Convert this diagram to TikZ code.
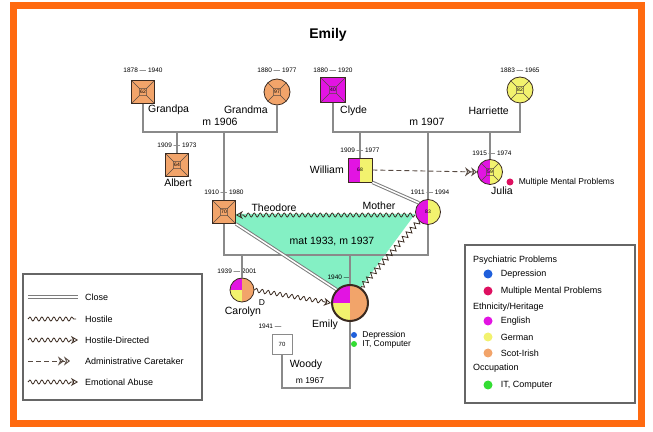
\documentclass[tikz,border=0pt]{standalone}
\usepackage{fontspec}
\setmainfont{Liberation Sans}
\usetikzlibrary{
  arrows.meta,
  backgrounds,
  decorations.pathmorphing,
  positioning
}
\definecolor{genoScot}{HTML}{F2A46A}
\definecolor{genoEnglish}{HTML}{E214E2}
\definecolor{genoGerman}{HTML}{F2F26E}
\definecolor{genoBond}{HTML}{84F0C4}
\definecolor{genoDepression}{HTML}{1F5FDB}
\definecolor{genoMental}{HTML}{DE1060}
\definecolor{genoComputer}{HTML}{33DD33}
\definecolor{genoFrame}{HTML}{FF6A10}
\definecolor{genoLine}{HTML}{8A8A8A}
\definecolor{genoInk}{HTML}{3A2A20}
\tikzset{
  maleBox/.style={
    draw=genoInk,
    thick,
    minimum size=23pt,
    inner sep=0pt,
    font=\fontsize{5}{5}\selectfont
  },
  femaleDisc/.style={
    circle,
    draw=genoInk,
    thick,
    minimum size=26pt,
    inner sep=0pt,
    font=\fontsize{5}{5}\selectfont
  },
  deadCross/.style={path picture={
    \draw[genoInk!85, line width=0.5pt]
      (path picture bounding box.north west) -- ([shift={(-3.5pt,3.5pt)}]path picture bounding box.center)
      (path picture bounding box.north east) -- ([shift={(3.5pt,3.5pt)}]path picture bounding box.center)
      (path picture bounding box.south west) -- ([shift={(-3.5pt,-3.5pt)}]path picture bounding box.center)
      (path picture bounding box.south east) -- ([shift={(3.5pt,-3.5pt)}]path picture bounding box.center)
      ([shift={(-3.5pt,-3.5pt)}]path picture bounding box.center) rectangle
      ([shift={(3.5pt,3.5pt)}]path picture bounding box.center);
  }},
  halfPie/.style 2 args={preaction={fill=white, path picture={
    \fill[#1] (path picture bounding box.south) rectangle (path picture bounding box.north west);
    \fill[#2] (path picture bounding box.south) rectangle (path picture bounding box.north east);
  }}},
  triPie/.style={path picture={
    \fill[genoScot] (path picture bounding box.south) rectangle (path picture bounding box.north east);
    \fill[genoEnglish] (path picture bounding box.center) rectangle (path picture bounding box.north west);
    \fill[genoGerman] (path picture bounding box.center) rectangle (path picture bounding box.south west);
  }},
  dateText/.style={font=\fontsize{6.5}{7}\selectfont, inner sep=0pt},
  nameText/.style={font=\fontsize{10.5}{11}\selectfont, inner sep=0pt},
  noteText/.style={font=\fontsize{8.5}{9}\selectfont, inner sep=0pt},
  keyText/.style={font=\fontsize{9}{10}\selectfont, inner sep=0pt, anchor=west},
  familyLine/.style={genoLine, line width=1.8pt},
  closeLine/.style={draw=genoLine!90!black, line width=1pt, double=white, double distance=1.5pt},
  hostileLine/.style={
    genoInk,
    line width=0.8pt,
    decorate,
    decoration={snake, amplitude=2pt, segment length=6pt}
  },
  hostileArrow/.style={
    genoInk,
    line width=0.8pt,
    decorate,
    decoration={snake, amplitude=2pt, segment length=6pt, post length=7pt},
    -{Stealth[open, length=7pt, width=8pt]}
  },
  caretakerArrow/.style={
    genoInk!85,
    line width=0.9pt,
    dash pattern=on 5pt off 3pt,
    -{Stealth[open, length=6pt, width=9pt]Stealth[open, length=6pt, width=9pt]}
  },
  sawLine/.style={
    genoInk,
    line width=0.8pt,
    decorate,
    decoration={zigzag, amplitude=2.6pt, segment length=6pt}
  },
  legendBox/.style={draw=black!60, line width=1.2pt},
  traitDot/.style={circle, inner sep=0pt, minimum size=9pt}
}

\begin{document}
\begin{tikzpicture}[x=1pt,y=1pt]
  \useasboundingbox (0,0) rectangle (653,431);
  \draw[genoFrame, line width=7pt] (13,8) rectangle (641,425);
  \node[font=\bfseries\fontsize{14}{16}\selectfont] (title) at (328,396) {Emily};

  % first generation
  \node[maleBox, fill=genoScot, deadCross] (grandpa) at (143,339) {62};
  \node[femaleDisc, fill=genoScot, deadCross] (grandma) at (277,339) {97};
  \node[maleBox, fill=genoEnglish, deadCross, minimum size=25pt] (clyde) at (333,341) {40};
  \node[femaleDisc, fill=genoGerman, deadCross] (harriette) at (520,341) {82};
  \node[dateText] (dateGrandpa) at (143,361) {1878 — 1940};
  \node[dateText] (dateGrandma) at (277,361) {1880 — 1977};
  \node[dateText] (dateClyde) at (333,361) {1880 — 1920};
  \node[dateText] (dateHarriette) at (520,361) {1883 — 1965};
  \node[nameText, anchor=west] (nameGrandpa) at (148,321) {Grandpa};
  \node[nameText, anchor=east] (nameGrandma) at (268,321) {Grandma};
  \node[nameText, anchor=west] (nameClyde) at (340,320) {Clyde};
  \node[nameText, anchor=east] (nameHarriette) at (509,320) {Harriette};

  % second generation
  \node[maleBox, fill=genoScot, deadCross] (albert) at (177,266) {64};
  \node[maleBox, fill=genoScot, deadCross] (theodore) at (224,219) {70};
  \node[maleBox, halfPie={genoEnglish}{genoGerman}, minimum size=24pt] (william) at (360,261) {68};
  \node[femaleDisc, halfPie={genoEnglish}{genoGerman}, minimum size=25pt] (mother) at (428,219) {83};
  \node[femaleDisc, halfPie={genoEnglish}{genoGerman}, deadCross, minimum size=25pt] (julia) at (490,259) {59};
  \node[dateText] (dateAlbert) at (177,286) {1909 — 1973};
  \node[dateText] (dateTheodore) at (224,239) {1910 — 1980};
  \node[dateText] (dateWilliam) at (360,281) {1909 — 1977};
  \node[dateText] (dateMother) at (430,239) {1911 — 1994};
  \node[dateText] (dateJulia) at (492,278) {1915 — 1974};
  \node[nameText] (nameAlbert) at (178,248) {Albert};
  \node[nameText] (nameTheodore) at (274,223) {Theodore};
  \node[nameText, anchor=east] (nameWilliam) at (344,261) {William};
  \node[nameText] (nameMother) at (379,225) {Mother};
  \node[nameText] (nameJulia) at (502,240) {Julia};
  \node[traitDot, fill=genoMental, minimum size=7pt] (dotJulia) at (510,249) {};
  \node[noteText, right=5pt of dotJulia] (noteJulia) {Multiple Mental Problems};

  % third generation
  \node[femaleDisc, triPie, minimum size=36pt, line width=2pt] (emily) at (350,128) {};
  \node[femaleDisc, triPie, minimum size=24pt] (carolyn) at (242,141) {};
  \node[maleBox, draw=genoLine, fill=white, minimum size=20pt, font=\fontsize{6}{6}\selectfont] (woody) at (282,87) {70};
  \node[dateText] (dateEmily) at (339,154) {1940 —};
  \node[dateText] (dateCarolyn) at (237,160) {1939 — 2001};
  \node[dateText] (dateWoody) at (270,105) {1941 —};
  \node[nameText] (nameEmily) at (325,106) {Emily};
  \node[nameText] (nameCarolyn) at (243,119) {Carolyn};
  \node[nameText] (nameWoody) at (306,66) {Woody};
  \node[noteText] (markCarolyn) at (262,128) {D};
  \node[traitDot, fill=genoDepression, minimum size=6pt] (dotDepression) at (354,96) {};
  \node[traitDot, fill=genoComputer, minimum size=6pt] (dotComputer) at (354,87) {};
  \node[noteText, right=5pt of dotDepression] (noteDepression) {Depression};
  \node[noteText, right=5pt of dotComputer] (noteComputer) {IT, Computer};

  % marriages and children
  \coordinate (m1906) at (225,299);
  \coordinate (m1907) at (427,299);
  \coordinate (m1937) at (332,176);
  \coordinate (m1967) at (316,43);
  \draw[familyLine] (grandpa.south) |- (m1906) -| (grandma.south);
  \draw[familyLine] (clyde.south) |- (m1907) -| (harriette.south);
  \draw[familyLine] (theodore.south) |- (m1937) -| (mother.south);
  \draw[familyLine] (woody.south) |- (m1967) -| (emily.south);
  \draw[familyLine] (albert.north) -- (albert.north |- m1906);
  \draw[familyLine] (theodore.north) -- (theodore.north |- m1906);
  \draw[familyLine] (william.north) -- (william.north |- m1907);
  \draw[familyLine] (mother.north) -- (mother.north |- m1907);
  \draw[familyLine] (julia.north) -- (julia.north |- m1907);
  \draw[familyLine] (carolyn.north) -- (carolyn.north |- m1937);
  \draw[familyLine] (emily.north) -- (emily.north |- m1937);
  \node[nameText, fill=white, inner sep=1pt] (textM1906) at (220,309) {m 1906};
  \node[nameText, fill=white, inner sep=1pt] (textM1907) at (427,309) {m 1907};
  \node[nameText] (textM1937) at (332,189) {mat 1933, m 1937};
  \node[noteText] (textM1967) at (310,50) {m 1967};

  % emotional relations
  \begin{scope}[on background layer]
    \fill[genoBond] ([yshift=-2pt]theodore.east) -- ([yshift=-2pt]mother.west)
      -- (emily.55) -- (emily.north west) -- (theodore.south east) -- cycle;
  \end{scope}
  \draw[hostileArrow] ([yshift=-3pt]mother.west) -- ([yshift=-3pt]theodore.east);
  \draw[sawLine] (mother.south west) -- (emily.55);
  \draw[closeLine] (theodore.south east) -- (emily.north west);
  \draw[closeLine] (william.south east) -- (mother.north west);
  \draw[hostileArrow] (carolyn.east) -- (emily.west);
  \draw[caretakerArrow] (william.east) -- (julia.west);

  % relation key
  \draw[legendBox] (23,31) rectangle (202,157);
  \node[keyText] (keyClose) at (85,134) {Close};
  \node[keyText] (keyHostile) at (85,112) {Hostile};
  \node[keyText] (keyDirected) at (85,91) {Hostile-Directed};
  \node[keyText] (keyCaretaker) at (85,70) {Administrative Caretaker};
  \node[keyText] (keyAbuse) at (85,49) {Emotional Abuse};
  \draw[closeLine] ([xshift=-57pt]keyClose.west) -- ([xshift=-7pt]keyClose.west);
  \draw[hostileLine] ([xshift=-57pt]keyHostile.west) -- ([xshift=-9pt]keyHostile.west);
  \draw[hostileArrow] ([xshift=-57pt]keyDirected.west) -- ([xshift=-7pt]keyDirected.west);
  \draw[caretakerArrow] ([xshift=-57pt]keyCaretaker.west) -- ([xshift=-15pt]keyCaretaker.west);
  \draw[hostileArrow] ([xshift=-57pt]keyAbuse.west) -- ([xshift=-7pt]keyAbuse.west);

  % trait key
  \draw[legendBox] (465,28) rectangle (635,186);
  \node[keyText] (keyPsych) at (473,171) {Psychiatric Problems};
  \node[traitDot, fill=genoDepression] (keyDotDepression) at (488,157) {};
  \node[keyText, right=8pt of keyDotDepression] (keyDepression) {Depression};
  \node[traitDot, fill=genoMental] (keyDotMental) at (488,140) {};
  \node[keyText, right=8pt of keyDotMental] (keyMental) {Multiple Mental Problems};
  \node[keyText] (keyEthnic) at (473,124) {Ethnicity/Heritage};
  \node[traitDot, fill=genoEnglish] (keyDotEnglish) at (488,110) {};
  \node[keyText, right=8pt of keyDotEnglish] (keyEnglish) {English};
  \node[traitDot, fill=genoGerman] (keyDotGerman) at (488,94) {};
  \node[keyText, right=8pt of keyDotGerman] (keyGerman) {German};
  \node[traitDot, fill=genoScot] (keyDotScot) at (488,78) {};
  \node[keyText, right=8pt of keyDotScot] (keyScot) {Scot-Irish};
  \node[keyText] (keyOccupation) at (473,63) {Occupation};
  \node[traitDot, fill=genoComputer] (keyDotComputer) at (488,46) {};
  \node[keyText, right=8pt of keyDotComputer] (keyComputer) {IT, Computer};
\end{tikzpicture}
\end{document}
